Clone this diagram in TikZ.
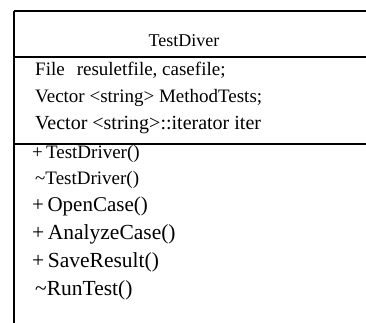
\documentclass[tikz,border=0pt]{standalone}
\usepackage{fontspec}
\setmainfont{Liberation Serif}
\usetikzlibrary{calc}

\begin{document}
\begin{tikzpicture}[x=1pt, y=-1pt]

% Define styles for the class box
\tikzset{
    member/.style={anchor=base west, inner sep=0pt, font=\fontsize{#1}{#1}\selectfont},
    member/.default=19,
    title/.style={anchor=base, inner sep=0pt, font=\fontsize{18}{20}\selectfont},
    frame/.style={black, line width=1.4pt}
}

% Fix the page size
\useasboundingbox (0,0) rectangle (366,323);

% Class frame: left border and the separating rules (open on the right)
\draw[frame] (14,11) -- (14,323);
\draw[frame] (14,11) -- (366,11);
\draw[frame] (14,57) -- (366,57);
\draw[frame] (14,144) -- (366,144);

% Class name
\node[title] (name) at (184,47) {TestDiver};

% Attributes
\node[member] (attfile) at (35,76) {File\hspace{12pt}resuletfile, casefile;};
\node[member] (attvec) at (35,103) {Vector <string> MethodTests;};
\node[member=20] (attiter) at (35,130) {Vector <string>::iterator iter};

% Methods
\node[member] (opctor) at (32,158) {+\,TestDriver()};
\node[member] (opdtor) at (35,184) {\char`\~TestDriver()};
\node[member=21] (opopen) at (32,211) {+\,OpenCase()};
\node[member=21.5] (opanalyze) at (32,239) {+\,AnalyzeCase()};
\node[member=21.5] (opsave) at (32,267) {+\,SaveResult()};
\node[member=21.5] (oprun) at (35,295) {\char`\~RunTest()};

\end{tikzpicture}
\end{document}
